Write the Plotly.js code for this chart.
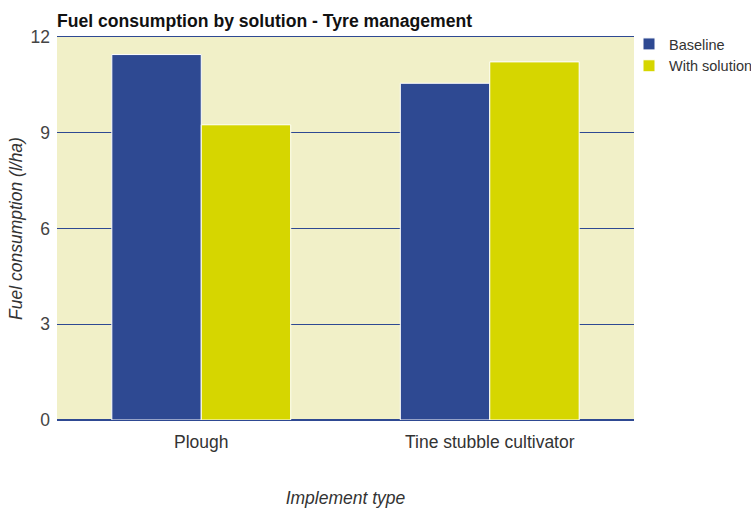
<!DOCTYPE html>
<html>
<head>
<meta charset="utf-8">
<script src="https://cdn.plot.ly/plotly-3.0.1.min.js"></script>
<style>html,body{margin:0;padding:0;background:#fff;}#chart{width:751px;height:508px;}</style>
</head>
<body>
<div id="chart"></div>
<script>
var categories = ["Plough", "Tine stubble cultivator"];
var baselineValues = [11.45, 10.55];
var solutionValues = [9.25, 11.22];
var seriesNames = ["Baseline", "With solution"];
var yTicks = [0, 3, 6, 9, 12];

var traces = [
  {type: "bar", name: seriesNames[0], x: categories, y: baselineValues,
   marker: {color: "#2e4992", line: {color: "#ffffff", width: 1}}, hoverinfo: "y"},
  {type: "bar", name: seriesNames[1], x: categories, y: solutionValues,
   marker: {color: "#d6d600", line: {color: "#ffffff", width: 1}}, hoverinfo: "y"}
];

var layout = {
  width: 751, height: 508,
  margin: {l: 57, r: 117, t: 37, b: 88, autoexpand: false},
  paper_bgcolor: "#ffffff",
  plot_bgcolor: "#f1f0c8",
  font: {family: "Liberation Sans, Arial, sans-serif", color: "#333333", size: 18},
  title: {text: "<b>Fuel consumption by solution - Tyre management</b>",
          x: 57/751, xref: "container", xanchor: "left",
          y: 1 - 21/508, yref: "container", yanchor: "middle",
          font: {size: 17.6, color: "#111111"}},
  barmode: "group",
  bargap: 0.38,
  bargroupgap: 0.0,
  xaxis: {
    showgrid: false, zeroline: false, ticks: "",
    showline: true, mirror: true, linecolor: "#2e4992", linewidth: 1.3,
    ticklabelstandoff: 6,
    tickfont: {size: 17.5, color: "#333333"},
    title: {text: "<i>Implement type</i>", standoff: 42, font: {size: 17.5, color: "#333333"}}
  },
  yaxis: {
    range: [0, 12], tickvals: yTicks, ticktext: yTicks.map(String),
    showgrid: true, gridcolor: "#2e4992", gridwidth: 1.3,
    zeroline: true, zerolinecolor: "#2e4992", zerolinewidth: 1.3,
    showline: false, ticks: "", ticklabelstandoff: 6,
    tickfont: {size: 17.5, color: "#444444"},
    title: {text: "<i>Fuel consumption (l/ha)</i>", standoff: 3, font: {size: 17.5, color: "#333333"}}
  },
  legend: {xref: "container", x: 629/751, xanchor: "left",
           yref: "container", y: 1 - 28/508, yanchor: "top",
           font: {size: 14.5, color: "#333333"}, bgcolor: "rgba(0,0,0,0)",
           tracegroupgap: 0}
};

Plotly.newPlot("chart", traces, layout, {displayModeBar: false, staticPlot: true});
</script>
</body>
</html>
